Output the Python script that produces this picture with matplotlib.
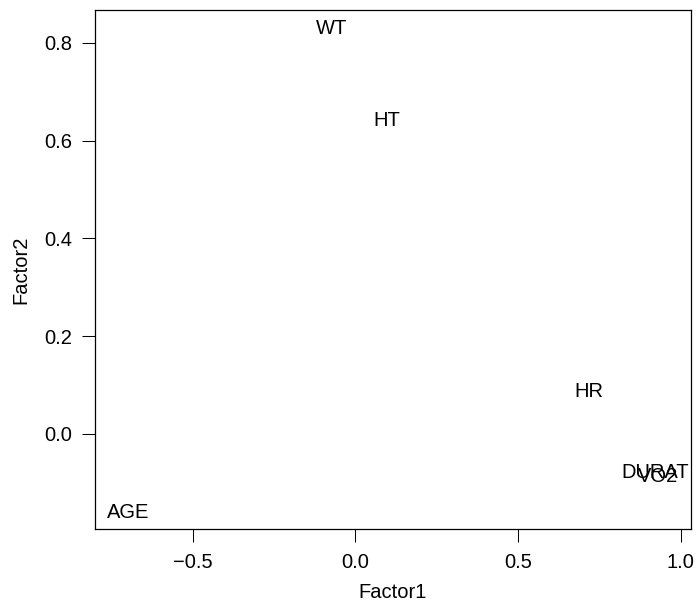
import matplotlib
matplotlib.use("Agg")
from matplotlib import pyplot as plt

# factor loadings
labels = ["WT", "HT", "HR", "DURAT", "VO2", "AGE"]
factor1 = [-0.073, 0.096, 0.717, 0.922, 0.932, -0.699]
factor2 = [0.829, 0.642, 0.086, -0.078, -0.086, -0.160]

xticks = [-0.5, 0.0, 0.5, 1.0]
yticks = [0.0, 0.2, 0.4, 0.6, 0.8]

plt.rcParams['font.family'] = ['Liberation Sans', 'DejaVu Sans']
fs = 14.5

fig = plt.figure(figsize=(6.98, 6.02), dpi=100)
ax = fig.add_axes([95 / 698, 73 / 602, 596 / 698, 519 / 602])

for lab, x, y in zip(labels, factor1, factor2):
    ax.text(x, y, lab, ha='center', va='center', fontsize=fs, color='black')

ax.set_xlim(-0.800, 1.032)
ax.set_ylim(-0.1944, 0.8675)

ax.set_xticks(xticks)
ax.set_xticklabels(["\u22120.5", "0.0", "0.5", "1.0"])
ax.set_yticks(yticks)
ax.set_yticklabels([f"{v:.1f}" for v in yticks])

ax.tick_params(direction='out', length=9.5, width=0.75, labelsize=fs,
               color='black')
ax.tick_params(axis='x', pad=8)
ax.tick_params(axis='y', pad=7)

for s in ax.spines.values():
    s.set_linewidth(0.9)
    s.set_color('black')

ax.set_xlabel('Factor1', fontsize=fs, labelpad=8)
ax.set_ylabel('Factor2', fontsize=fs, labelpad=10)

fig.savefig('out.png', dpi=100)
